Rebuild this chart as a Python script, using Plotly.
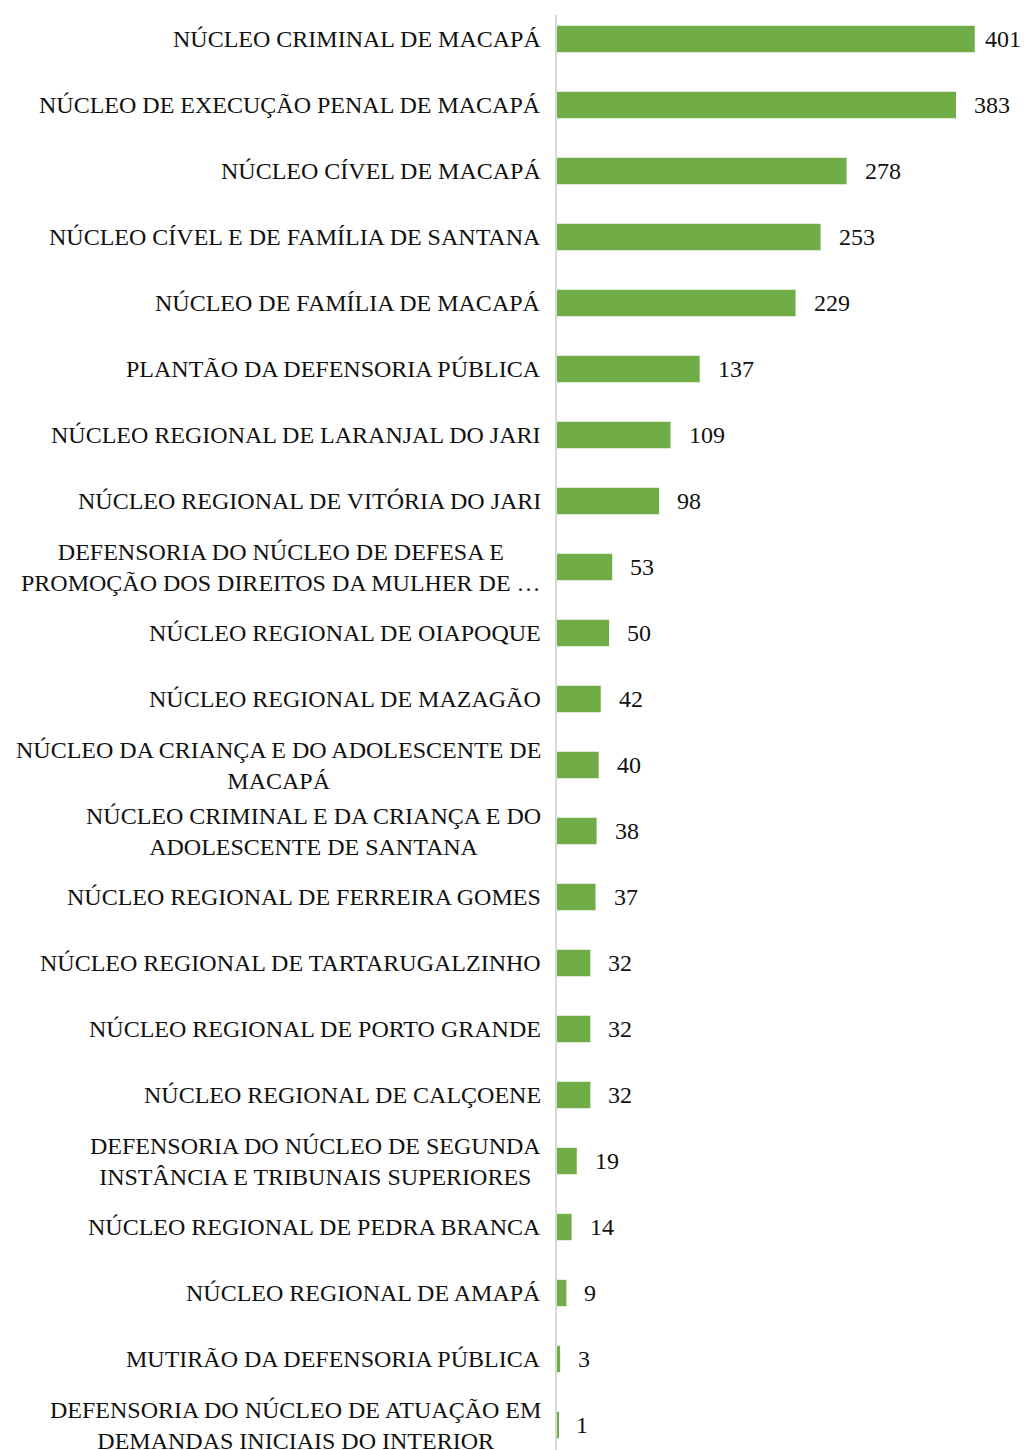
import plotly.graph_objects as go

categories = [
    "NÚCLEO CRIMINAL DE MACAPÁ",
    "NÚCLEO DE EXECUÇÃO PENAL DE MACAPÁ",
    "NÚCLEO CÍVEL DE MACAPÁ",
    "NÚCLEO CÍVEL E DE FAMÍLIA DE SANTANA",
    "NÚCLEO DE FAMÍLIA DE MACAPÁ",
    "PLANTÃO DA DEFENSORIA PÚBLICA",
    "NÚCLEO REGIONAL DE LARANJAL DO JARI",
    "NÚCLEO REGIONAL DE VITÓRIA DO JARI",
    "DEFENSORIA DO NÚCLEO DE DEFESA E<br>PROMOÇÃO DOS DIREITOS DA MULHER DE …",
    "NÚCLEO REGIONAL DE OIAPOQUE",
    "NÚCLEO REGIONAL DE MAZAGÃO",
    "NÚCLEO DA CRIANÇA E DO ADOLESCENTE DE<br>MACAPÁ",
    "NÚCLEO CRIMINAL E DA CRIANÇA E DO<br>ADOLESCENTE DE SANTANA",
    "NÚCLEO REGIONAL DE FERREIRA GOMES",
    "NÚCLEO REGIONAL DE TARTARUGALZINHO",
    "NÚCLEO REGIONAL DE PORTO GRANDE",
    "NÚCLEO REGIONAL DE CALÇOENE",
    "DEFENSORIA DO NÚCLEO DE SEGUNDA<br>INSTÂNCIA E TRIBUNAIS SUPERIORES",
    "NÚCLEO REGIONAL DE PEDRA BRANCA",
    "NÚCLEO REGIONAL DE AMAPÁ",
    "MUTIRÃO DA DEFENSORIA PÚBLICA",
    "DEFENSORIA DO NÚCLEO DE ATUAÇÃO EM<br>DEMANDAS INICIAIS DO INTERIOR",
]
values = [401, 383, 278, 253, 229, 137, 109, 98, 53, 50, 42, 40, 38, 37, 32, 32, 32, 19, 14, 9, 3, 1]

FONT = "Liberation Serif, Times New Roman, serif"
FS = 24

fig = go.Figure()
fig.add_trace(go.Bar(
    x=values, y=categories, orientation="h",
    marker=dict(color="#70AD47", line=dict(width=0)),
    hoverinfo="x+y",
))

vmax = max(values)
annotations = []
for c, v in zip(categories, values):
    annotations.append(dict(
        x=0, xref="paper", y=c, yref="y", text=c, showarrow=False,
        xanchor="right", yanchor="middle", align="center", xshift=-14,
        font=dict(family=FONT, size=FS, color="#111111"),
    ))
    annotations.append(dict(
        x=v, xref="x", y=c, yref="y", text=str(v), showarrow=False,
        xanchor="left", yanchor="middle", xshift=(8 if v == vmax else 16),
        font=dict(family=FONT, size=FS, color="#111111"),
    ))

fig.update_layout(
    width=1023, height=1450,
    margin=dict(l=549, r=0, t=7, b=0),
    paper_bgcolor="white", plot_bgcolor="white",
    bargap=0.6,
    showlegend=False,
    annotations=annotations,
    xaxis=dict(range=[0, 455], showgrid=False, zeroline=False, showticklabels=False,
               showline=False, fixedrange=True),
    yaxis=dict(type="category", categoryorder="array", categoryarray=categories,
               range=[21.5, -0.364], showticklabels=False, showgrid=False,
               zeroline=False, showline=True, linecolor="#D9D9D9", linewidth=1.5,
               fixedrange=True),
)

fig.write_html("out.html")
